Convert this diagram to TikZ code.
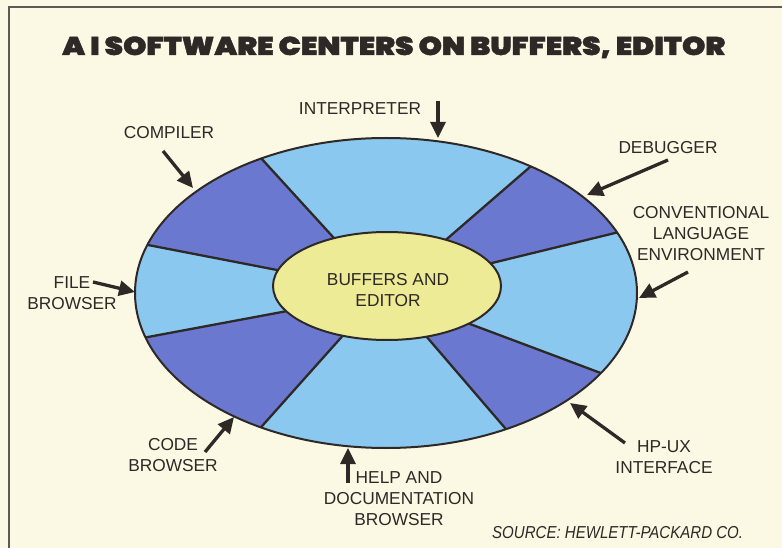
\documentclass[tikz,border=0pt]{standalone}
\usepackage{fontspec}
\usepackage{graphicx}
\setmainfont{Liberation Sans}
\IfFontExistsTF{Poppins Black}{\newfontfamily\titlefontbase{Poppins Black}[FakeBold=1.5]\def\titlefont{\titlefontbase}}{\newfontfamily\titlefontbase{Poppins}[BoldFeatures={FakeBold=3}]\def\titlefont{\titlefontbase\bfseries}}
\usetikzlibrary{arrows.meta,calc}
\definecolor{bg}{HTML}{FBF9E4}
\definecolor{ink}{HTML}{2E2826}
\definecolor{lightb}{HTML}{8AC8EF}
\definecolor{darkb}{HTML}{6A79CF}
\definecolor{yel}{HTML}{EDEB95}
\definecolor{frame}{HTML}{5E5955}
\begin{document}
\begin{tikzpicture}[x=1pt,y=-1pt,
  lbl/.style={font=\fontsize{17.3}{21}\selectfont, text=ink, align=center, inner sep=0pt},
  pointer/.style={draw=ink, line width=3.3pt, -{Triangle[length=16pt,width=15pt]}},
  divider/.style={draw=ink, line width=2.3pt},
  rim/.style={draw=ink, line width=2pt}]
\fill[bg] (0,0) rectangle (782,548);
\useasboundingbox (0,0) rectangle (782,548);
% frame (top and left edges visible)
\draw[frame, line width=1.5pt] (9,548) -- (9,7) -- (782,7);
% title
\node[anchor=base west, inner sep=0pt, text=ink] (title) at (62,55)
  {\resizebox{663pt}{18.5pt}{\titlefont A\,I SOFTWARE CENTERS ON BUFFERS, EDITOR}};
% divider end points (inner, outer)
\coordinate (i1) at (333,237); \coordinate (o1) at (260,157);
\coordinate (i2) at (448,238); \coordinate (o2) at (530,167);
\coordinate (i3) at (492,263); \coordinate (o3) at (615,233);
\coordinate (i4) at (478,327); \coordinate (o4) at (598,372);
\coordinate (i5) at (432,343); \coordinate (o5) at (505,428);
\coordinate (i6) at (338,341); \coordinate (o6) at (263,425);
\coordinate (i7) at (282,312); \coordinate (o7) at (148,337);
\coordinate (i8) at (277,270); \coordinate (o8) at (148,245);
\begin{scope}
  \clip (386,293) ellipse [x radius=251, y radius=155];
  \fill[lightb] (0,0) rectangle (782,548);
  \foreach \a/\b in {8/1,2/3,4/5,6/7}
    \fill[darkb] ($(i\a)!-0.2!(o\a)$) -- ($(i\a)!2.5!(o\a)$) -- ($(i\b)!2.5!(o\b)$) -- ($(i\b)!-0.2!(o\b)$) -- cycle;
  \foreach \a in {1,...,8}
    \draw[divider] ($(i\a)!-0.2!(o\a)$) -- ($(i\a)!2!(o\a)$);
\end{scope}
\draw[rim] (386,293) ellipse [x radius=251, y radius=155];
\draw[rim, fill=yel] (387,286) ellipse [x radius=114, y radius=54];
\node[lbl] (core) at (388,290) {BUFFERS AND\\EDITOR};
% labels
\node[lbl] (interp) at (360,108.5) {INTERPRETER};
\node[lbl] (comp) at (169,133) {COMPILER};
\node[lbl] (debug) at (668,148) {DEBUGGER};
\node[lbl] (conv) at (701,234) {CONVENTIONAL\\LANGUAGE\\ENVIRONMENT};
\node[lbl] (file) at (72,293) {FILE\\BROWSER};
\node[lbl] (code) at (173,455.5) {CODE\\BROWSER};
\node[lbl] (help) at (399,498.5) {HELP AND\\DOCUMENTATION\\BROWSER};
\node[lbl] (hpux) at (664,457.5) {HP-UX\\INTERFACE};
\node[lbl, anchor=west] (src) at (492,533) {\scalebox{0.87}[1]{\itshape SOURCE: HEWLETT-PACKARD CO.}};
% arrows
\coordinate (interpT) at (438,101); \coordinate (interpH) at (438,138);
\coordinate (compT) at (163,151); \coordinate (compH) at (193,188);
\coordinate (debugT) at (668,160); \coordinate (debugH) at (587,195);
\coordinate (convT) at (688,272); \coordinate (convH) at (639,298);
\coordinate (fileT) at (93,282); \coordinate (fileH) at (135,292);
\coordinate (codeT) at (205,452); \coordinate (codeH) at (234,417);
\coordinate (helpT) at (348,483); \coordinate (helpH) at (348,448);
\coordinate (hpuxT) at (625,443); \coordinate (hpuxH) at (570,403);
\foreach \n in {interp,comp,debug,conv,file,code,help,hpux}
  \draw[pointer] (\n T) -- (\n H);
\end{tikzpicture}
\end{document}
